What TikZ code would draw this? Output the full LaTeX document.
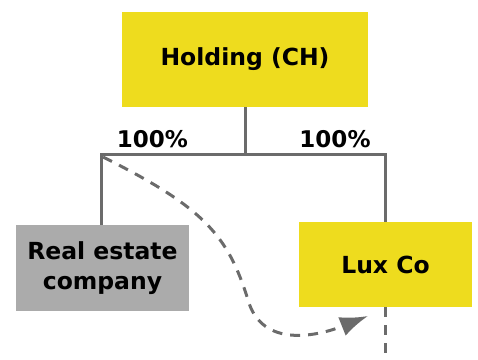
\documentclass[tikz,border=0pt]{standalone}
\usepackage{fontspec}
\setmainfont{DejaVu Sans}
\usetikzlibrary{arrows.meta}

\definecolor{eyyellow}{HTML}{EEDC1E}
\definecolor{boxgray}{HTML}{ABABAB}
\definecolor{linegray}{HTML}{6B6B6B}

\tikzset{
  entity/.style={font=\fontsize{23.5}{30}\selectfont\bfseries, align=center, inner sep=0pt},
  share/.style={font=\fontsize{23}{26}\selectfont\bfseries, inner sep=0pt},
  link/.style={draw=linegray, line width=3pt},
  flow/.style={draw=linegray, line width=3pt, dash pattern=on 10pt off 8pt},
}

\begin{document}
\begin{tikzpicture}[x=1pt,y=1pt]
		\useasboundingbox (0,0) rectangle (478,359);
		\node[entity, fill=eyyellow, minimum width=246pt, minimum height=95pt] (holding) at (245,299.5) {Holding (CH)};
		\node[entity, fill=boxgray, minimum width=173pt, minimum height=86pt] (realestate) at (102.5,91) {Real estate\\company};
		\node[entity, fill=eyyellow, minimum width=173pt, minimum height=85pt] (luxco) at (385.5,94.5) {Lux Co};
		\coordinate (split) at (holding.south |- 0,204);
		\coordinate (cornerleft) at (101,204);
		\coordinate (cornerright) at (385,204);
		\coordinate (leftend) at (realestate.north -| cornerleft);
		\coordinate (rightend) at (luxco.north -| cornerright);
		\coordinate (down) at (385,4);
		\node[share] (pctleft) at (152.5,220) {100\%};
		\node[share] (pctright) at (335,220) {100\%};
		\draw[link] (holding.south) -- (split);
		\draw[link] (leftend) -- (cornerleft) -- (cornerright) -- (rightend);
		\draw[flow] (luxco.south -| cornerright) -- (down);
		\draw[flow, -{Latex[length=28pt, width=20pt]}] (103,202) .. controls (203,152) and (228,124) .. (248,59)
			.. controls (262,10) and (318,23) .. (368,43);
	\end{tikzpicture}
\end{document}
